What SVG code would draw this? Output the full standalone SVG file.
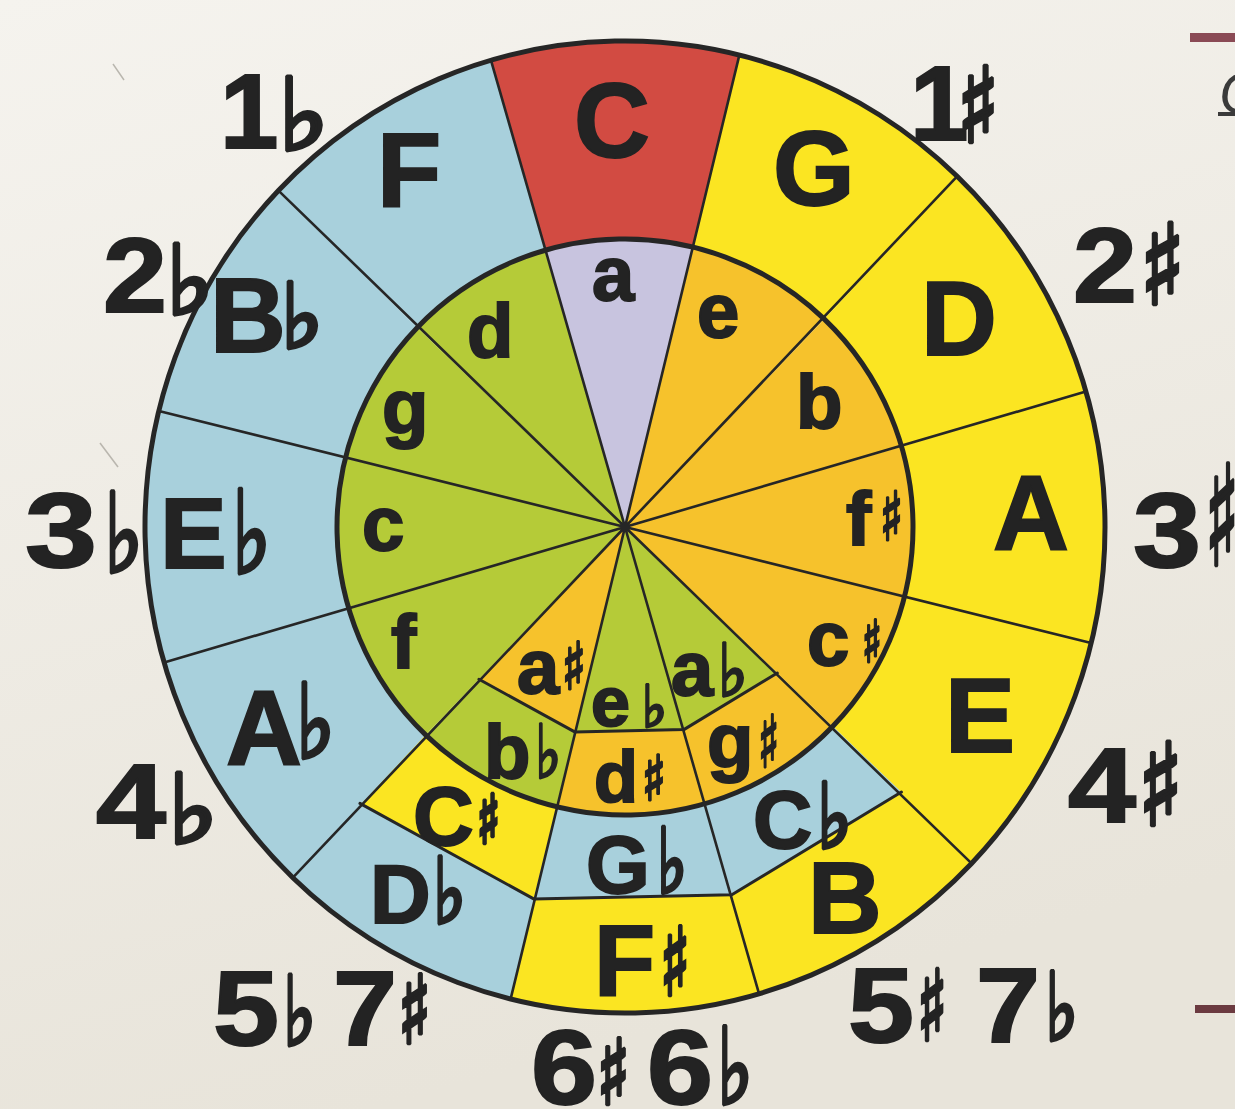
<svg xmlns="http://www.w3.org/2000/svg" width="1235" height="1109" viewBox="0 0 1235 1109">
<defs>
<linearGradient id="paper" x1="0" y1="0" x2="0.3" y2="1">
<stop offset="0" stop-color="#f5f3ee"/>
<stop offset="1" stop-color="#e8e4da"/>
</linearGradient>
</defs>
<style>
.red{fill:#d24b42}.yel{fill:#fbe522}.blu{fill:#a8d0dc}.lil{fill:#c8c4df}.org{fill:#f6c22c}.grn{fill:#b5cb38}
.ln{stroke:#262626;fill:none;stroke-linecap:round;stroke-linejoin:round}
.rad{stroke-width:2.6}.chd{stroke-width:3}.ring{stroke-width:5}
.t{font-family:"Liberation Sans",Arial,sans-serif;font-weight:700;fill:#232323;stroke:#232323;stroke-width:2}
.acc{font-family:"DejaVu Sans",sans-serif;font-weight:700;stroke-width:4.5}
.min .acc{stroke-width:3}
.big{font-size:105px}.min{font-size:76px}
</style>
<rect width="1235" height="1109" fill="url(#paper)"/>
<g id="marks" stroke="#b9b6ae" stroke-width="1.5" fill="none">
<path d="M113 64 L124 80"/>
<path d="M100 443 L118 467"/>
</g>
<g id="edge">
<rect x="1190" y="33" width="45" height="9" fill="#8a4a55"/>
<text x="1219" y="113" style="font-family:'Liberation Sans',sans-serif;font-style:italic;font-size:58px;fill:#3a3a3a">C</text>
<rect x="1218" y="112" width="17" height="4" fill="#3a3a3a"/>
<rect x="1195" y="1005" width="40" height="8" fill="#6b3a40"/>
</g>
<g id="wheel" transform="rotate(-1.2 625 527)">
<g id="major-keys">
<path id="key-C" class="red" d="M 550.5 248.8 L 500.8 57.6 A 480 486 0 0 1 749.2 57.6 L 699.5 248.8 A 288 288 0 0 0 550.5 248.8 Z"/>
<path id="key-G" class="yel" d="M 699.5 248.8 L 749.2 57.6 A 480 486 0 0 1 964.4 183.4 L 828.6 323.4 A 288 288 0 0 0 699.5 248.8 Z"/>
<path id="key-D" class="yel" d="M 828.6 323.4 L 964.4 183.4 A 480 486 0 0 1 1088.6 401.2 L 903.2 452.5 A 288 288 0 0 0 828.6 323.4 Z"/>
<path id="key-A" class="yel" d="M 903.2 452.5 L 1088.6 401.2 A 480 486 0 0 1 1088.6 652.8 L 903.2 601.5 A 288 288 0 0 0 903.2 452.5 Z"/>
<path id="key-E" class="yel" d="M 903.2 601.5 L 1088.6 652.8 A 480 486 0 0 1 964.4 870.6 L 828.6 730.6 A 288 288 0 0 0 903.2 601.5 Z"/>
<path id="key-B" class="yel" d="M 895.8 797.8 L 964.4 870.6 A 480 486 0 0 1 749.2 996.4 L 724.1 896.9 Z"/>
<path id="key-Cb" class="blu" d="M 828.6 730.6 L 895.8 797.8 L 724.1 896.9 L 699.5 805.2 A 288 288 0 0 0 828.6 730.6 Z"/>
<path id="key-Fs" class="yel" d="M 724.1 896.9 L 749.2 996.4 A 480 486 0 0 1 500.8 996.4 L 525.9 896.9 Z"/>
<path id="key-Gb" class="blu" d="M 699.5 805.2 L 724.1 896.9 L 525.9 896.9 L 550.5 805.2 A 288 288 0 0 0 699.5 805.2 Z"/>
<path id="key-Db" class="blu" d="M 525.9 896.9 L 500.8 996.4 A 480 486 0 0 1 285.6 870.6 L 354.2 797.8 Z"/>
<path id="key-Cs" class="yel" d="M 550.5 805.2 L 525.9 896.9 L 354.2 797.8 L 421.4 730.6 A 288 288 0 0 0 550.5 805.2 Z"/>
<path id="key-Ab" class="blu" d="M 421.4 730.6 L 285.6 870.6 A 480 486 0 0 1 161.4 652.8 L 346.8 601.5 A 288 288 0 0 0 421.4 730.6 Z"/>
<path id="key-Eb" class="blu" d="M 346.8 601.5 L 161.4 652.8 A 480 486 0 0 1 161.4 401.2 L 346.8 452.5 A 288 288 0 0 0 346.8 601.5 Z"/>
<path id="key-Bb" class="blu" d="M 346.8 452.5 L 161.4 401.2 A 480 486 0 0 1 285.6 183.4 L 421.4 323.4 A 288 288 0 0 0 346.8 452.5 Z"/>
<path id="key-F" class="blu" d="M 421.4 323.4 L 285.6 183.4 A 480 486 0 0 1 500.8 57.6 L 550.5 248.8 A 288 288 0 0 0 421.4 323.4 Z"/>
</g>
<g id="minor-keys">
<path id="key-a" class="lil" d="M 625 527 L 550.5 248.8 A 288 288 0 0 1 699.5 248.8 Z"/>
<path id="key-e" class="org" d="M 625 527 L 699.5 248.8 A 288 288 0 0 1 828.6 323.4 Z"/>
<path id="key-b" class="org" d="M 625 527 L 828.6 323.4 A 288 288 0 0 1 903.2 452.5 Z"/>
<path id="key-fs" class="org" d="M 625 527 L 903.2 452.5 A 288 288 0 0 1 903.2 601.5 Z"/>
<path id="key-cs" class="org" d="M 625 527 L 903.2 601.5 A 288 288 0 0 1 828.6 730.6 Z"/>
<path id="key-gs" class="org" d="M 774.2 676.2 L 828.6 730.6 A 288 288 0 0 1 699.5 805.2 L 679.6 730.8 Z"/>
<path id="key-ab" class="grn" d="M 625 527 L 774.2 676.2 L 679.6 730.8 Z"/>
<path id="key-ds" class="org" d="M 679.6 730.8 L 699.5 805.2 A 288 288 0 0 1 550.5 805.2 L 570.4 730.8 Z"/>
<path id="key-eb" class="grn" d="M 625 527 L 679.6 730.8 L 570.4 730.8 Z"/>
<path id="key-bb" class="grn" d="M 570.4 730.8 L 550.5 805.2 A 288 288 0 0 1 421.4 730.6 L 475.8 676.2 Z"/>
<path id="key-as" class="org" d="M 625 527 L 570.4 730.8 L 475.8 676.2 Z"/>
<path id="key-f" class="grn" d="M 625 527 L 421.4 730.6 A 288 288 0 0 1 346.8 601.5 Z"/>
<path id="key-c" class="grn" d="M 625 527 L 346.8 601.5 A 288 288 0 0 1 346.8 452.5 Z"/>
<path id="key-g" class="grn" d="M 625 527 L 346.8 452.5 A 288 288 0 0 1 421.4 323.4 Z"/>
<path id="key-d" class="grn" d="M 625 527 L 421.4 323.4 A 288 288 0 0 1 550.5 248.8 Z"/>
</g>
<g id="connectors" class="ln">
<path class="rad" d="M625 527 L749.2 57.6 M625 527 L964.4 183.4 M625 527 L1088.6 401.2 M625 527 L1088.6 652.8 M625 527 L964.4 870.6 M625 527 L749.2 996.4 M625 527 L500.8 996.4 M625 527 L285.6 870.6 M625 527 L161.4 652.8 M625 527 L161.4 401.2 M625 527 L285.6 183.4 M625 527 L500.8 57.6"/>
<path class="chd" d="M 895.8 797.8 L 724.1 896.9 L 525.9 896.9 L 354.2 797.8"/>
<path class="chd" d="M 774.2 676.2 L 679.6 730.8 L 570.4 730.8 L 475.8 676.2"/>
<circle class="ring" cx="625" cy="527" r="288"/>
<ellipse class="ring" cx="625" cy="527" rx="480" ry="486"/>
</g>
</g>
<g id="labels-major" class="t big">
<text x="574" y="157">C</text>
<text x="773" y="205">G</text>
<text x="921" y="355">D</text>
<text x="993" y="550">A</text>
<text x="945" y="752">E</text>
<text x="808" y="933" style="font-size:102px">B</text>
<text x="377" y="207">F</text>
<text x="594" y="995" style="font-size:100px">F<tspan class="acc" x="660" y="995" textLength="30" lengthAdjust="spacingAndGlyphs" style="font-size:94px">♯</tspan></text>
<text x="586" y="893" style="font-size:82px">G<tspan class="acc" x="657" y="893" textLength="30" lengthAdjust="spacingAndGlyphs" style="font-size:90px">♭</tspan></text>
<text x="413" y="845" style="font-size:84px">C<tspan class="acc" x="477" y="843" textLength="23" lengthAdjust="spacingAndGlyphs" style="font-size:67px">♯</tspan></text>
<text x="370" y="923" style="font-size:84px">D<tspan class="acc" x="433" y="923" textLength="33" lengthAdjust="spacingAndGlyphs" style="font-size:91px">♭</tspan></text>
<text x="753" y="848" style="font-size:82px">C<tspan class="acc" x="817" y="848" textLength="35" lengthAdjust="spacingAndGlyphs" style="font-size:90px">♭</tspan></text>
<text x="226" y="765">A<tspan class="acc" x="296" y="758" textLength="39" lengthAdjust="spacingAndGlyphs" style="font-size:103px">♭</tspan></text>
<text x="160" y="568" style="font-size:100px">E<tspan class="acc" x="232" y="573" textLength="39" lengthAdjust="spacingAndGlyphs" style="font-size:115px">♭</tspan></text>
<text x="210" y="352">B<tspan class="acc" x="281" y="348" textLength="42" lengthAdjust="spacingAndGlyphs" style="font-size:90px">♭</tspan></text>
</g>
<g id="labels-minor" class="t min">
<text x="592" y="300">a</text>
<text x="697" y="337">e</text>
<text x="467" y="357">d</text>
<text x="796" y="428">b</text>
<text x="382" y="433">g</text>
<text x="362" y="550">c</text>
<text x="391" y="668">f</text>
<text x="846" y="545">f<tspan class="acc" x="880" y="540" textLength="23" lengthAdjust="spacingAndGlyphs" style="font-size:67px">♯</tspan></text>
<text x="807" y="665">c<tspan class="acc" x="862" y="662" textLength="20" lengthAdjust="spacingAndGlyphs" style="font-size:58px">♯</tspan></text>
<text x="517" y="693">a<tspan class="acc" x="562" y="689" textLength="24" lengthAdjust="spacingAndGlyphs" style="font-size:65px">♯</tspan></text>
<text x="671" y="695">a<tspan class="acc" x="718" y="696" textLength="30" lengthAdjust="spacingAndGlyphs" style="font-size:73px">♭</tspan></text>
<text x="591" y="726" style="font-size:70px">e<tspan class="acc" x="642" y="727" textLength="25" lengthAdjust="spacingAndGlyphs" style="font-size:58px">♭</tspan></text>
<text x="484" y="778">b<tspan class="acc" x="535" y="778" textLength="26" lengthAdjust="spacingAndGlyphs" style="font-size:74px">♭</tspan></text>
<text x="594" y="802" style="font-size:72px">d<tspan class="acc" x="642" y="800" textLength="24" lengthAdjust="spacingAndGlyphs" style="font-size:62px">♯</tspan></text>
<text x="707" y="767">g<tspan class="acc" x="758" y="767" textLength="21" lengthAdjust="spacingAndGlyphs" style="font-size:72px">♯</tspan></text>
</g>
<g id="labels-count" class="t big">
<text x="220" y="148">1<tspan class="acc" x="278" y="150" textLength="51" lengthAdjust="spacingAndGlyphs" style="font-size:100px">♭</tspan></text>
<text x="910" y="140">1<tspan class="acc" x="957" y="142" textLength="42" lengthAdjust="spacingAndGlyphs" style="font-size:104px">♯</tspan></text>
<text y="312"><tspan x="103" textLength="64" lengthAdjust="spacingAndGlyphs">2</tspan><tspan class="acc" x="166" y="314" textLength="48" lengthAdjust="spacingAndGlyphs" style="font-size:96px">♭</tspan></text>
<text y="302"><tspan x="1073" textLength="64" lengthAdjust="spacingAndGlyphs">2</tspan><tspan class="acc" x="1140" y="304" textLength="45" lengthAdjust="spacingAndGlyphs" style="font-size:111px">♯</tspan></text>
<text y="567"><tspan x="25" textLength="72" lengthAdjust="spacingAndGlyphs">3</tspan><tspan class="acc" x="104" y="572" textLength="39" lengthAdjust="spacingAndGlyphs" style="font-size:110px">♭</tspan></text>
<text y="567"><tspan x="1133" textLength="68" lengthAdjust="spacingAndGlyphs">3</tspan><tspan class="acc" x="1205" y="565" textLength="34" lengthAdjust="spacingAndGlyphs" style="font-size:139px">♯</tspan></text>
<text y="838"><tspan x="96" textLength="70" lengthAdjust="spacingAndGlyphs">4</tspan><tspan class="acc" x="168" y="843" textLength="50" lengthAdjust="spacingAndGlyphs" style="font-size:96px">♭</tspan></text>
<text y="822"><tspan x="1068" textLength="68" lengthAdjust="spacingAndGlyphs">4</tspan><tspan class="acc" x="1138" y="825" textLength="45" lengthAdjust="spacingAndGlyphs" style="font-size:114px">♯</tspan></text>
<text y="1045"><tspan x="213" textLength="66" lengthAdjust="spacingAndGlyphs">5</tspan><tspan class="acc" x="283" y="1045" textLength="33" lengthAdjust="spacingAndGlyphs" style="font-size:96px">♭</tspan><tspan x="333" y="1045" textLength="64" lengthAdjust="spacingAndGlyphs">7</tspan><tspan class="acc" x="398" y="1043" textLength="33" lengthAdjust="spacingAndGlyphs" style="font-size:94px">♯</tspan></text>
<text y="1042"><tspan x="848" textLength="66" lengthAdjust="spacingAndGlyphs">5</tspan><tspan class="acc" x="917" y="1040" textLength="30" lengthAdjust="spacingAndGlyphs" style="font-size:97px">♯</tspan><tspan x="976" y="1042" textLength="64" lengthAdjust="spacingAndGlyphs">7</tspan><tspan class="acc" x="1045" y="1040" textLength="33" lengthAdjust="spacingAndGlyphs" style="font-size:94px">♭</tspan></text>
<text y="1104"><tspan x="531" textLength="66" lengthAdjust="spacingAndGlyphs">6</tspan><tspan class="acc" x="597" y="1104" textLength="33" lengthAdjust="spacingAndGlyphs" style="font-size:90px">♯</tspan><tspan x="647" y="1104" textLength="66" lengthAdjust="spacingAndGlyphs">6</tspan><tspan class="acc" x="717" y="1104" textLength="36" lengthAdjust="spacingAndGlyphs" style="font-size:106px">♭</tspan></text>
</g>
</svg>
